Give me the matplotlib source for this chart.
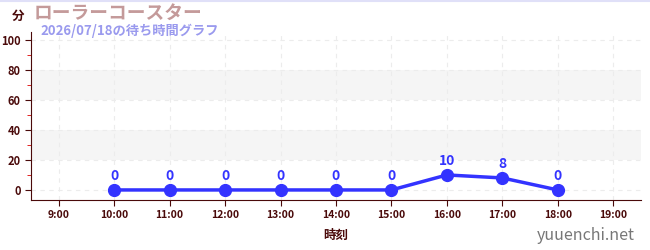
import matplotlib
matplotlib.use("Agg")
import matplotlib.pyplot as plt
from matplotlib.ticker import MultipleLocator

plt.rcParams['font.family'] = ['Noto Sans CJK JP', 'DejaVu Sans']

hours = [10, 11, 12, 13, 14, 15, 16, 17, 18]
waits = [0, 0, 0, 0, 0, 0, 10, 8, 0]
xticks = [9, 10, 11, 12, 13, 14, 15, 16, 17, 18, 19]
xlabels = [f"{h}:00" for h in xticks]
yticks = [0, 20, 40, 60, 80, 100]
title = "ローラーコースター"
subtitle = "2026/07/18の待ち時間グラフ"

dark = "#4a0a0a"
fig = plt.figure(figsize=(6.5, 2.5), dpi=100)
ax = fig.add_axes([31/650, 50/250, 610/650, 168/250])
ax.set_xlim(8.5, 19.5)
ax.set_ylim(-6.7, 105.3)

for lo, hi in [(20, 40), (60, 80)]:
    ax.axhspan(lo, hi, color="#f5f5f5", zorder=0, lw=0)

ax.set_xticks(xticks)
ax.set_xticklabels(xlabels)
ax.set_yticks(yticks)
ax.yaxis.set_minor_locator(MultipleLocator(10))
ax.grid(True, which="major", color="#ececec", linestyle=(0, (4, 4)), lw=0.8, zorder=0)

ax.plot(hours, waits, color="#3333ff", lw=2.5, marker="o", ms=8.5, zorder=3)
for h, w in zip(hours, waits):
    ax.annotate(str(w), (h, w), xytext=(0, 5), textcoords="offset points",
                ha="center", va="bottom", color="#3333ff", fontsize=10, fontweight="bold")

for s in ["top", "right"]:
    ax.spines[s].set_visible(False)
for s in ["left", "bottom"]:
    ax.spines[s].set_color(dark)
ax.tick_params(axis="both", which="major", colors=dark, labelsize=8, length=4)
ax.tick_params(axis="y", which="minor", colors="#dd0000", length=3)
for lbl in ax.get_xticklabels() + ax.get_yticklabels():
    lbl.set_fontweight("bold")
    lbl.set_color(dark)
ax.tick_params(axis="x", labelsize=7.5)

ax.set_xlabel("時刻", color=dark, fontsize=9, fontweight="bold", labelpad=6)

fig.text(12/650, 1 - 16/250, "分", color=dark, fontsize=9, fontweight="bold", va="center")
fig.text(34/650, 1 - 13/250, title, color="#c49a9a", fontsize=13.5, fontweight="bold", va="center")
fig.text(40/650, 1 - 31/250, subtitle, color="#9a9aee", fontsize=9.5, fontweight="bold", va="center")
fig.text(635/650, 1 - 235/250, "yuuenchi.net", color="#777777", fontsize=11.5, ha="right", va="center")

fig.add_artist(plt.Line2D([0, 1], [0.998, 0.998], color="#e0e0f8", lw=1.5))

fig.savefig("out.png", dpi=100)
